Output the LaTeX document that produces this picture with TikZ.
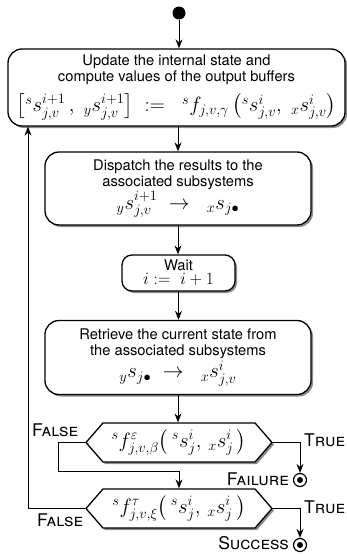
\documentclass[tikz,border=0pt]{standalone}
\usepackage{amsmath}
\usepackage{fontspec}
\setsansfont{TeX Gyre Heros}
\usetikzlibrary{shapes.symbols,shadows,arrows.meta,calc}
\newcommand\bodyfont{\sffamily\fontsize{14.7}{16}\selectfont}
\newcommand\mathbig{\fontsize{20.74}{22}\selectfont}
\newcommand\mathmid{\fontsize{17.28}{20}\selectfont}
\newcommand\lblfont{\sffamily\fontsize{17.5}{17.5}\selectfont}
\tikzset{
  shad/.style={drop shadow={shadow xshift=2pt,shadow yshift=-2pt,fill=black!45,opacity=1}},
  box/.style={draw, line width=1.3pt, rounded corners=14pt, fill=white, align=center,
    font=\bodyfont, shad, inner sep=1pt},
  dec/.style={signal, signal to=west and east, signal pointer angle=98, draw,
    line width=1.3pt, fill=white, shad, minimum width=186pt, minimum height=39pt, inner sep=1pt},
  arr/.style={-{Stealth[length=9pt,width=7pt,inset=3pt]}, line width=1pt},
  endpt/.style={circle, draw, line width=1.2pt, fill=white, minimum size=13pt, inner sep=0pt},
  dot/.style={circle, fill=black, minimum size=6pt, inner sep=0pt},
  lbl/.style={font=\lblfont, inner sep=0pt}
}
\begin{document}
\begin{tikzpicture}[x=1pt,y=-1pt]
\useasboundingbox (0,0) rectangle (347,554);
\node[circle, fill=black, inner sep=0pt, minimum size=13pt] (start) at (179,13) {};
\node[box, minimum width=337pt, minimum height=77pt] (b1) at (176.5,87.5)
  {Update the internal state and\\compute values of the output buffers\\[8pt]
   {\mathbig $\left[{}^{s}s^{i+1}_{j,v}\,,\;{}_{y}s^{i+1}_{j,v}\right]\;:=\;\;{}^{s}f_{j,v,\gamma}\left({}^{s}s^{i}_{j,v},\;{}_{x}s^{i}_{j,v}\right)$}};
\node[box, minimum width=266pt, minimum height=73pt] (b2) at (178,188.5)
  {Dispatch the results to the\\associated subsystems\\[1pt]
   {\mathbig ${}_{y}s^{i+1}_{j,v}\;\rightarrow\;\;{}_{x}s_{j\bullet}$}};
\node[box, minimum width=113pt, minimum height=36pt, rounded corners=10pt] (wait) at (178.5,273)
  {Wait\\[-2pt]{\mathmid $i :=\; i+1$}};
\node[box, minimum width=266pt, minimum height=74pt] (b4) at (178,357.5)
  {Retrieve the current state from\\the associated subsystems\\[1pt]
   {\mathbig ${}_{y}s_{j\bullet}\;\rightarrow\;\;{}_{x}s^{i}_{j,v}$}};
\node[dec] (d1) at (179,442.5)
  {\mathbig ${}^{s}f^{\varepsilon}_{j,v,\beta}\bigl(\,{}^{s}s^{i}_{j},\,{}_{x}s^{i}_{j}\,\bigr)$};
\node[dec] (d2) at (179,508.5)
  {\mathbig ${}^{s}f^{\tau}_{j,v,\xi}\bigl(\,{}^{s}s^{i}_{j},\,{}_{x}s^{i}_{j}\,\bigr)$};
\node[endpt] (fail) at (300,480) {};
\node[dot] (faildot) at (fail) {};
\node[endpt] (succ) at (300,545) {};
\node[dot] (succdot) at (succ) {};
\node[lbl, anchor=west] (t1) at (304,440) {\textsc{True}};
\node[lbl, anchor=west] (t2) at (304,507) {\textsc{True}};
\node[lbl] (f1) at (55,430) {\textsc{False}};
\node[lbl] (f2) at (60,520) {\textsc{False}};
\node[lbl, anchor=east] (fl) at (289,479) {\textsc{Failure}};
\node[lbl, anchor=east] (sc) at (289,543) {\textsc{Success}};
\coordinate (k1) at (58,471);
\coordinate (k2) at (28,508.5);
\draw[arr] (start) -- (start |- b1.north);
\draw[arr] (b1.south -| b2.north) -- (b2.north);
\draw[arr] (b2.south) -- (b2.south |- wait.north);
\draw[arr] (wait.south) -- (wait.south |- b4.north);
\draw[arr] (b4.south) -- (b4.south |- d1.north);
\draw[arr] (d1.east) -| (fail.north);
\draw[arr] (d1.west) -| (k1) -- (k1 -| d2.north) -- (d2.north);
\draw[arr] (d2.east) -| (succ.north);
\draw[arr] (d2.west) -- (k2) -- (k2 |- b1.south);
\end{tikzpicture}
\end{document}
